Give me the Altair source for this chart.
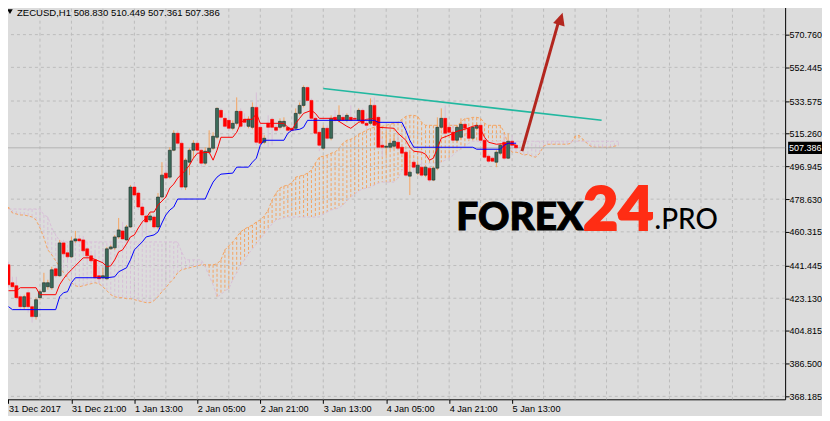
import altair as alt
import pandas as pd
import numpy as np

# ---------------- data ----------------
bars = list(range(130))
opens = [441.86, 431.82, 430.14, 424.00, 418.42, 426.24, 418.42, 412.84, 423.45, 426.79,
         429.58, 429.03, 439.63, 435.72, 454.14, 448.56, 446.32, 455.25, 456.37, 455.81,
         450.79, 446.88, 444.65, 435.72, 434.61, 434.05, 450.79, 451.35, 457.48, 460.83,
         455.81, 463.06, 485.38, 482.04, 474.22, 469.20, 466.97, 468.64, 463.06, 479.80,
         493.20, 490.96, 506.03, 515.52, 509.94, 485.38, 499.33, 506.03, 509.94, 506.03,
         498.78, 504.91, 507.15, 513.28, 528.35, 523.89, 522.77, 518.31, 521.10, 527.79,
         523.33, 519.42, 518.86, 530.02, 518.86, 510.49, 521.10, 523.33, 518.86, 518.86,
         519.42, 518.86, 518.31, 518.31, 526.68, 531.14, 541.18, 533.93, 523.89, 516.07,
         507.15, 518.31, 512.73, 524.44, 522.77, 524.44, 522.77, 524.44, 523.89, 522.77,
         528.35, 521.10, 521.10, 531.14, 524.44, 508.82, 507.70, 507.70, 508.26, 510.49,
         507.70, 504.91, 491.52, 499.33, 493.20, 496.54, 492.08, 495.99, 489.29, 495.99,
         518.86, 523.89, 518.86, 516.07, 511.61, 513.28, 520.54, 518.31, 512.73, 518.31,
         519.98, 511.61, 502.68, 501.57, 499.33, 504.36, 510.49, 501.57, 511.05, 508.83]
highs = [443.53, 435.16, 435.16, 425.12, 425.12, 427.91, 419.54, 423.45, 427.91, 437.40,
         433.49, 440.74, 440.74, 455.81, 455.81, 450.23, 457.48, 460.83, 458.60, 458.04,
         451.90, 448.00, 448.56, 440.19, 440.19, 451.90, 453.02, 458.60, 468.09, 465.85,
         464.18, 486.50, 487.62, 483.71, 476.46, 472.55, 470.88, 469.76, 482.04, 499.33,
         499.33, 507.70, 517.19, 517.19, 511.61, 501.57, 507.15, 511.61, 511.61, 507.15,
         507.70, 517.19, 516.07, 530.02, 529.47, 526.68, 526.68, 522.77, 535.61, 529.47,
         526.68, 525.00, 532.81, 538.39, 521.65, 514.40, 525.56, 524.44, 520.54, 523.89,
         524.44, 519.98, 519.42, 529.47, 532.81, 542.30, 541.74, 535.05, 525.00, 517.19,
         519.98, 519.98, 525.56, 528.35, 531.14, 526.68, 526.68, 531.14, 525.56, 529.47,
         529.47, 526.68, 535.05, 535.61, 525.56, 512.73, 516.07, 512.73, 514.40, 514.40,
         508.82, 506.03, 504.91, 501.01, 498.78, 500.45, 497.66, 497.10, 497.10, 524.44,
         529.47, 531.14, 519.98, 520.54, 519.98, 523.89, 522.21, 519.42, 519.98, 521.65,
         521.10, 512.73, 503.80, 502.68, 506.03, 509.94, 514.96, 515.52, 514.40, 510.449]
lows = [429.03, 427.91, 422.33, 416.75, 416.75, 415.08, 409.50, 411.17, 422.33, 426.24,
        427.91, 427.91, 434.61, 435.16, 446.88, 444.65, 445.77, 454.14, 454.14, 448.56,
        443.53, 442.98, 434.05, 431.82, 434.05, 433.49, 450.23, 450.23, 456.37, 455.81,
        455.25, 462.51, 479.80, 472.55, 457.48, 458.60, 465.85, 461.95, 461.95, 479.25,
        489.29, 489.85, 505.47, 508.82, 483.71, 483.71, 492.08, 501.57, 503.24, 496.54,
        497.66, 503.80, 506.03, 512.17, 522.77, 518.31, 517.19, 517.19, 519.98, 518.31,
        518.86, 518.31, 517.75, 508.82, 508.82, 509.38, 507.70, 508.82, 516.07, 517.75,
        518.31, 516.07, 516.07, 517.19, 525.56, 530.02, 532.81, 522.77, 514.40, 505.47,
        506.03, 511.61, 511.61, 521.65, 521.65, 522.21, 521.65, 522.21, 522.21, 521.65,
        519.98, 517.19, 519.98, 518.86, 506.59, 502.12, 503.24, 506.59, 507.15, 506.03,
        503.24, 490.96, 480.92, 493.75, 492.08, 490.96, 490.96, 488.17, 488.73, 494.87,
        517.75, 514.40, 514.96, 510.49, 510.49, 512.17, 517.19, 511.61, 511.61, 517.19,
        510.49, 501.01, 498.78, 499.33, 496.54, 503.24, 500.45, 501.01, 507.70, 507.361]
closes = [430.70, 429.58, 423.45, 418.42, 424.00, 418.42, 412.84, 422.33, 426.79, 431.82,
          431.82, 439.07, 435.72, 454.14, 448.00, 446.32, 455.25, 456.37, 455.25, 449.67,
          446.88, 444.09, 434.61, 434.05, 435.72, 450.79, 451.90, 457.48, 461.39, 456.37,
          463.06, 485.38, 480.92, 474.22, 469.76, 465.85, 469.20, 463.06, 479.80, 492.08,
          490.41, 506.03, 515.52, 509.94, 485.38, 500.45, 506.03, 509.94, 506.03, 498.78,
          505.47, 507.15, 513.84, 529.47, 524.44, 519.42, 518.31, 521.10, 527.79, 519.42,
          521.65, 523.33, 530.02, 510.49, 509.94, 512.73, 518.86, 518.86, 517.19, 522.21,
          522.21, 517.19, 517.19, 526.68, 531.14, 541.18, 533.93, 523.89, 515.52, 508.82,
          518.31, 512.73, 523.89, 522.77, 525.56, 522.77, 525.56, 522.77, 523.33, 528.35,
          521.10, 519.98, 531.14, 519.98, 507.70, 507.70, 508.26, 509.94, 511.05, 507.15,
          504.36, 492.08, 493.75, 496.54, 497.66, 492.08, 496.54, 489.29, 495.99, 518.86,
          523.89, 515.52, 516.07, 511.61, 518.86, 520.54, 518.31, 512.73, 518.86, 519.98,
          511.61, 502.12, 499.89, 499.89, 504.91, 508.82, 501.57, 511.05, 508.82, 507.386]

tenkan_bar = [0, 2, 3, 7, 8, 12, 13, 14, 15, 16,
              17, 19, 21, 24, 25, 26, 27, 28, 29, 30,
              31, 32, 33, 34, 35, 36, 37, 38, 39, 40,
              41, 42, 43, 44, 45, 46, 47, 48, 51, 52,
              53, 54, 57, 58, 59, 60, 62, 63, 64, 70,
              71, 72, 73, 74, 75, 77, 78, 79, 83, 84,
              86, 87, 88, 89, 91, 93, 94, 98, 99, 101,
              102, 103, 105, 106, 107, 108, 109, 110, 112, 114,
              116, 118, 119, 120, 121, 122, 124, 127, 129]
tenkan_val = [427.35, 427.35, 429.03, 429.03, 425.12, 425.12, 430.70, 434.05, 436.84, 439.07,
              441.30, 445.77, 445.77, 442.98, 440.74, 441.30, 444.65, 449.11, 450.23, 453.58,
              457.48, 458.60, 462.51, 465.85, 468.09, 471.43, 471.43, 475.34, 477.57, 479.80,
              484.83, 487.06, 490.41, 492.64, 494.87, 497.66, 501.57, 504.36, 504.91, 500.45,
              506.03, 513.28, 513.28, 516.07, 521.10, 523.33, 523.33, 526.68, 521.10, 521.10,
              518.86, 517.19, 521.10, 523.89, 526.68, 528.35, 526.68, 523.89, 523.89, 522.21,
              519.42, 518.31, 519.98, 521.65, 523.33, 523.89, 518.86, 518.31, 515.52, 511.61,
              507.70, 505.47, 504.91, 503.80, 500.45, 501.57, 507.15, 512.73, 514.40, 516.63,
              517.75, 519.42, 519.98, 517.75, 513.28, 510.49, 509.38, 509.94, 508.82]

kijun_bar = [0, 1, 12, 13, 14, 15, 16, 17, 25, 27,
             28, 30, 31, 32, 34, 35, 37, 38, 39, 40,
             41, 42, 43, 50, 51, 52, 53, 54, 57, 58,
             61, 62, 63, 64, 65, 70, 71, 72, 74, 75,
             76, 93, 94, 100, 101, 102, 103, 118, 119, 125,
             126, 127, 129]
kijun_val = [418.42, 416.75, 416.75, 424.00, 426.24, 426.79, 431.82, 434.61, 434.61, 435.16,
             437.95, 440.19, 444.65, 450.23, 454.69, 457.48, 458.60, 460.27, 465.30, 469.76,
             472.55, 474.22, 478.69, 478.69, 483.71, 488.17, 490.96, 492.64, 493.20, 496.54,
             496.54, 499.33, 501.57, 508.82, 511.61, 511.61, 515.52, 517.19, 517.75, 518.86,
             522.77, 522.77, 521.65, 521.65, 517.19, 511.61, 507.70, 507.70, 506.59, 506.59,
             508.82, 509.94, 509.94]

span_a = [474.22, 470.88, 470.32, 469.76, 469.76, 469.20, 468.64, 466.97, 462.51, 456.93,
          450.23, 447.44, 444.09, 440.74, 437.40, 434.61, 431.82, 430.14, 429.58, 430.14,
          430.70, 431.26, 431.82, 431.26, 429.58, 427.35, 425.12, 424.00, 423.45, 423.45,
          422.89, 422.89, 422.33, 421.77, 421.21, 420.66, 420.66, 421.77, 424.00, 426.79,
          429.03, 431.82, 434.05, 437.40, 439.07, 439.63, 440.19, 440.74, 441.30, 441.86,
          441.86, 441.86, 441.86, 442.42, 444.65, 450.23, 452.46, 454.69, 457.48, 460.27,
          461.95, 463.06, 464.18, 465.85, 466.97, 469.20, 472.55, 478.13, 482.04, 484.83,
          485.94, 486.50, 487.62, 490.96, 491.52, 492.08, 493.20, 494.87, 498.78, 502.12,
          502.68, 503.24, 504.36, 504.91, 507.15, 509.94, 511.61, 512.17, 513.28, 514.96,
          516.07, 517.19, 518.31, 518.86, 519.42, 519.42, 519.98, 520.54, 521.10, 521.65,
          523.33, 525.00, 525.56, 525.56, 525.00, 521.65, 519.98, 519.98, 519.98, 519.98,
          519.98, 519.98, 519.98, 519.98, 519.98, 521.65, 523.89, 523.89, 524.44, 524.44,
          523.89, 521.10, 519.98, 519.98, 519.98, 519.98, 516.07, 508.82, 504.91, 504.91,
          504.36, 503.24, 503.80, 502.68, 502.12, 504.36, 508.26, 509.38, 509.38, 509.38,
          509.38, 509.38, 509.38, 509.94, 513.84, 514.40, 512.17, 509.94, 508.26, 507.70,
          507.70, 507.70, 507.70, 507.70, 508.26, 508.82]
span_b = [473.11, 473.11, 473.11, 473.11, 473.11, 473.11, 473.11, 473.11, 473.11, 469.76,
          468.64, 462.51, 458.60, 455.25, 454.69, 454.69, 454.69, 454.69, 454.69, 454.69,
          454.69, 454.69, 454.69, 454.69, 454.69, 454.69, 454.69, 454.69, 454.69, 454.69,
          454.69, 454.69, 454.69, 454.69, 454.69, 454.69, 454.69, 454.69, 454.69, 454.69,
          454.69, 454.69, 454.69, 454.69, 449.11, 444.65, 444.65, 444.65, 444.65, 444.65,
          440.74, 435.72, 430.70, 424.00, 425.12, 427.35, 428.47, 433.49, 437.40, 441.30,
          444.65, 448.00, 450.79, 453.58, 456.37, 459.16, 461.95, 464.74, 466.97, 467.53,
          468.09, 468.64, 468.64, 468.64, 468.64, 468.64, 468.64, 468.64, 468.64, 468.64,
          470.32, 471.43, 472.55, 473.11, 473.67, 475.34, 477.57, 479.80, 481.48, 483.15,
          484.27, 484.83, 485.38, 486.50, 487.62, 488.17, 488.17, 488.17, 488.17, 490.41,
          494.87, 496.54, 497.10, 497.66, 497.66, 498.22, 498.22, 498.78, 498.78, 499.33,
          499.33, 500.45, 501.57, 503.24, 505.47, 506.59, 508.26, 509.94, 511.05, 511.05,
          511.05, 511.05, 511.05, 511.05, 511.05, 511.05, 511.05, 511.05, 511.05, 511.05,
          511.05, 511.05, 511.05, 511.05, 511.05, 511.05, 511.05, 511.05, 511.05, 511.05,
          511.05, 511.05, 511.05, 511.05, 511.05, 511.05, 511.05, 511.05, 511.05, 511.05,
          511.05, 511.05, 511.05, 511.05, 511.05, 511.05]

price_ticks = [570.760, 552.445, 533.575, 515.260, 496.945, 478.630,
               460.315, 441.445, 423.130, 404.815, 386.500, 368.185]
time_tick_bars = [0, 16, 32, 48, 64, 80, 96, 112, 128]
time_labels = ["31 Dec 2017", "31 Dec 21:00", "1 Jan 13:00", "2 Jan 05:00", "2 Jan 21:00",
               "3 Jan 13:00", "4 Jan 05:00", "4 Jan 21:00", "5 Jan 13:00"]
grid_bars = [8, 16, 24, 32, 40, 48, 56, 64, 72, 80, 88, 96, 104, 112, 120, 128,
             136, 144, 152, 160, 168, 176, 184, 192]

trend_bar = [80, 150.75]
trend_val = [540.63, 522.77]
arrow_bar = [130.5, 139.7]
arrow_val = [505.5, 577.2]
arrow_head_bar = [140.3]
arrow_head_val = [579.3]

symbol_name = "ZECUSD,H1"
title_ohlc = ["508.830", "510.449", "507.361", "507.386"]
last_price = [507.386]
brand_parts = ["FOREX", "24", ".PRO"]

# ---------------- chart ----------------
W, H = 785, 398
X_DOMAIN = [-0.125, 196.125]
Y_DOMAIN = [366.53, 588.61]
BG = "#dcdcdc"
FONT = "Liberation Sans, Arial, sans-serif"

label_expr = "[" + ",".join("'" + s + "'" for s in time_labels) + "][round(datum.value/16)]"

X_AXIS = alt.Axis(values=time_tick_bars, labelExpr=label_expr, orient="bottom", grid=False,
                  domain=False, ticks=True, tickSize=4, tickColor="black", labelColor="black",
                  labelFont=FONT, labelFontSize=9.2, labelAlign="left", labelBaseline="top",
                  labelPadding=1, labelOverlap=False, labelFlush=False, title=None)
Y_AXIS = alt.Axis(values=price_ticks, format=".3f", orient="right", grid=False, domain=False,
                  ticks=True, tickSize=4, tickColor="black", labelColor="black",
                  labelFont=FONT, labelFontSize=9, labelPadding=0, labelOverlap=False,
                  labelFlush=False, labelAlign="left", labelBaseline="middle", title=None)


def xq(field):
    return alt.X(field, type="quantitative",
                 scale=alt.Scale(domain=X_DOMAIN, nice=False, zero=False), axis=X_AXIS)


def yq(field):
    return alt.Y(field, type="quantitative",
                 scale=alt.Scale(domain=Y_DOMAIN, nice=False, zero=False), axis=Y_AXIS)


candles = pd.DataFrame({"bar": bars, "open": opens, "high": highs, "low": lows, "close": closes})
candles["dir"] = np.where(candles["close"] >= candles["open"], "up", "down")

cloud = pd.DataFrame({"bar": list(range(len(span_a))), "a": span_a, "b": span_b})
cloud["top"] = np.where(cloud["a"] >= cloud["b"], "A", "B")

vgrid = alt.Chart(pd.DataFrame({"bar": grid_bars})).mark_rule(
    color="#bcbcbc", strokeDash=[3, 3], strokeWidth=1).encode(x=xq("bar"))
hgrid = alt.Chart(pd.DataFrame({"p": price_ticks})).mark_rule(
    color="#bcbcbc", strokeDash=[3, 3], strokeWidth=1).encode(y=yq("p"))

hatch = alt.Chart(cloud).mark_rule(strokeDash=[3, 2], strokeWidth=1, clip=True).encode(
    x=xq("bar"), y=yq("a"), y2="b",
    color=alt.Color("top:N", scale=alt.Scale(domain=["A", "B"], range=["#f4a460", "#d8bfd8"]),
                    legend=None))
line_a = alt.Chart(cloud).mark_line(color="#f4a460", strokeDash=[3, 2], strokeWidth=1,
                                    clip=True).encode(x=xq("bar"), y=yq("a"))
line_b = alt.Chart(cloud).mark_line(color="#d8bfd8", strokeDash=[3, 2], strokeWidth=1,
                                    clip=True).encode(x=xq("bar"), y=yq("b"))

price_line = alt.Chart(pd.DataFrame({"p": last_price})).mark_rule(
    color="#b4b4b4", strokeWidth=1).encode(y=yq("p"))

wicks = alt.Chart(candles).mark_rule(strokeWidth=1, clip=True).encode(
    x=xq("bar"), y=yq("low"), y2="high",
    color=alt.Color("dir:N", scale=alt.Scale(domain=["up", "down"], range=["#2b3d37", "#ff0000"]),
                    legend=None))
bodies = alt.Chart(candles).mark_bar(size=3, strokeWidth=0.6, clip=True).encode(
    x=xq("bar"), y=yq("open"), y2="close",
    fill=alt.Fill("dir:N", scale=alt.Scale(domain=["up", "down"], range=["#3b6b5a", "#ff0000"]),
                  legend=None),
    stroke=alt.Stroke("dir:N", scale=alt.Scale(domain=["up", "down"], range=["#1c2b27", "#ff0000"]),
                      legend=None))

tenkan = alt.Chart(pd.DataFrame({"bar": tenkan_bar, "v": tenkan_val})).mark_line(
    color="#ff0000", strokeWidth=1, clip=True).encode(x=xq("bar"), y=yq("v"))
kijun = alt.Chart(pd.DataFrame({"bar": kijun_bar, "v": kijun_val})).mark_line(
    color="#0000ff", strokeWidth=1, clip=True).encode(x=xq("bar"), y=yq("v"))

trend = alt.Chart(pd.DataFrame({"bar": trend_bar, "v": trend_val})).mark_line(
    color="#22b8a0", strokeWidth=1.6).encode(x=xq("bar"), y=yq("v"))
arrow = alt.Chart(pd.DataFrame({"bar": arrow_bar, "v": arrow_val})).mark_line(
    color="#b3261e", strokeWidth=3, strokeCap="butt").encode(x=xq("bar"), y=yq("v"))
arrow_head = alt.Chart(pd.DataFrame({"bar": arrow_head_bar, "v": arrow_head_val})).mark_point(
    shape="M0,-1L0.85,0.8L-0.85,0.8Z", size=200, angle=17, filled=True, opacity=1,
    color="#b3261e").encode(x=xq("bar"), y=yq("v"))

one = pd.DataFrame({"t": [0]})
brand1 = alt.Chart(one).mark_text(text=brand_parts[0], font="Lato", fontWeight=900, fontSize=39,
                                  color="#000000", stroke="#000000", strokeWidth=1,
                                  align="left", baseline="alphabetic").encode(
    x=alt.value(455), y=alt.value(228))
brand2 = alt.Chart(one).mark_text(text=brand_parts[1], font="Lato", fontWeight=900, fontSize=61,
                                  color="#ff2d14", stroke="#ff2d14", strokeWidth=2,
                                  align="left", baseline="alphabetic").encode(
    x=alt.value(582), y=alt.value(228))
brand3 = alt.Chart(one).mark_text(text=brand_parts[2], font="Lato", fontWeight=500, fontSize=28,
                                  color="#000000", align="left", baseline="alphabetic").encode(
    x=alt.value(654), y=alt.value(227))

title_text = symbol_name + "  " + " ".join(title_ohlc)
title = alt.Chart(one).mark_text(text=title_text, font=FONT, fontSize=9.6, color="black",
                                 align="left", baseline="alphabetic").encode(
    x=alt.value(14), y=alt.value(13))
title_tri = alt.Chart(one).mark_point(shape="triangle-down", size=30, filled=True, opacity=1,
                                      color="black").encode(x=alt.value(7), y=alt.value(9))

price_box = alt.Chart(pd.DataFrame({"p": last_price})).mark_point(
    shape="M-1,-0.36L1,-0.36L1,0.36L-1,0.36Z", size=1156, filled=True, opacity=1,
    color="black").encode(x=alt.value(805), y=yq("p"))
price_lbl = alt.Chart(pd.DataFrame({"p": last_price})).mark_text(
    font=FONT, fontSize=9, color="white", align="left", baseline="middle").encode(
    x=alt.value(789), y=yq("p"), text=alt.Text("p:Q", format=".3f"))

chart = alt.layer(
    vgrid, hgrid, hatch, line_a, line_b, price_line, wicks, bodies, tenkan, kijun,
    trend, arrow, arrow_head, brand1, brand2, brand3, title, title_tri, price_box, price_lbl
).properties(
    width=W, height=H,
    autosize=alt.AutoSizeParams(type="none"),
    padding={"left": -5, "top": -6, "right": 37, "bottom": 16},
    background=BG,
).configure_view(stroke="black", strokeWidth=1)

chart.save("out.html", embed_options={"renderer": "svg", "actions": False})
